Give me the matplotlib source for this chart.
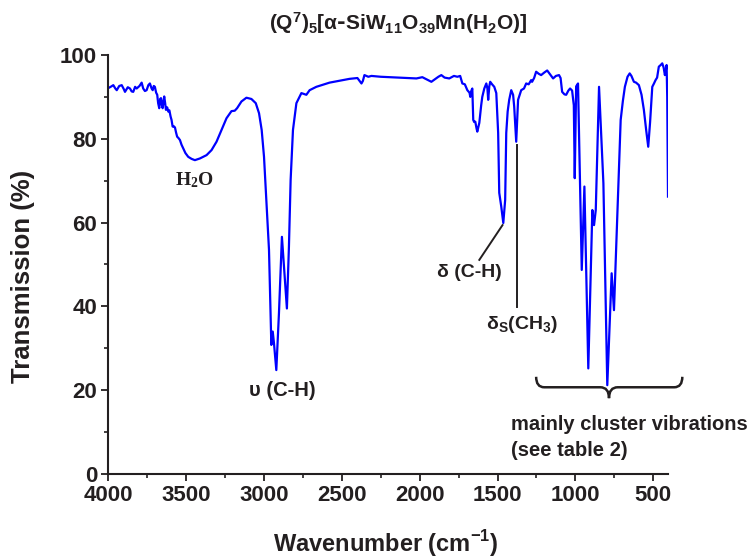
import matplotlib
matplotlib.use("Agg")
import matplotlib.pyplot as plt
from matplotlib.path import Path
from matplotlib.patches import PathPatch
from matplotlib.ticker import MultipleLocator

# IR spectrum (wavenumber in cm-1, transmission in %)
wavenumber = [
    4000, 3985, 3968, 3955, 3946, 3930, 3914, 3900, 3893, 3875, 3861, 3850,
    3840, 3828, 3818, 3800, 3786, 3776, 3765, 3754, 3743, 3733, 3722, 3715,
    3708, 3701, 3693, 3686, 3680, 3673, 3667, 3662, 3656, 3651, 3646, 3641,
    3635, 3630, 3622, 3615, 3608, 3600, 3594, 3587, 3580, 3572, 3565, 3558,
    3550, 3540, 3530, 3519, 3505, 3487, 3465, 3444, 3412, 3369, 3337, 3305,
    3273, 3241, 3209, 3188, 3173, 3145, 3113, 3081, 3053, 3032, 3015, 3000,
    2985, 2968, 2953, 2944, 2936, 2921, 2904, 2885, 2867, 2853, 2840, 2829,
    2814, 2792, 2760, 2728, 2707, 2664, 2579, 2493, 2451, 2400, 2374, 2365,
    2355, 2330, 2310, 2250, 2130, 2021, 1983, 1925, 1880, 1861, 1840, 1810,
    1780, 1758, 1740, 1726, 1710, 1694, 1680, 1675, 1668, 1662, 1656, 1650,
    1643, 1635, 1630, 1622, 1617, 1605, 1598, 1585, 1572, 1565, 1560, 1553,
    1547, 1535, 1521, 1508, 1496, 1489, 1476, 1463, 1451, 1444, 1435, 1425,
    1412, 1400, 1393, 1380, 1368, 1348, 1330, 1316, 1300, 1284, 1278, 1265,
    1252, 1235, 1220, 1200, 1181, 1165, 1143, 1125, 1105, 1095, 1085, 1070,
    1059, 1045, 1034, 1021, 1010, 1004, 995, 983, 959, 942, 917, 891,
    880, 869, 848, 820, 795, 767, 752, 731, 709, 695, 682, 665,
    651, 640, 624, 610, 592, 575, 560, 545, 532, 520, 506, 495,
    485, 475, 464, 452, 442, 433, 425, 418, 414, 410, 405,
]
transmission = [
    92.1, 92.4, 92.8, 92.0, 91.6, 92.6, 92.8, 91.8, 91.2, 92.3, 92.0, 91.3,
    91.2, 92.4, 92.0, 92.6, 93.4, 92.0, 91.4, 91.6, 92.8, 93.2, 92.0, 91.6,
    92.6, 92.4, 91.0, 90.5, 88.5, 87.3, 89.5, 89.7, 88.0, 87.3, 89.0, 90.1,
    88.5, 86.9, 87.5, 86.5, 86.8, 85.3, 84.5, 82.9, 83.0, 82.7, 81.5, 80.5,
    80.2, 79.7, 78.6, 77.7, 76.6, 75.7, 75.2, 74.9, 75.3, 76.1, 77.3, 79.3,
    82.1, 84.9, 86.6, 86.7, 87.3, 88.9, 89.8, 89.5, 88.5, 86.1, 82.1, 75.7,
    65.4, 53.5, 30.8, 34.0, 31.2, 24.8, 38.4, 56.6, 47.1, 39.5, 54.2, 70.2,
    82.1, 88.5, 90.9, 90.5, 91.6, 92.4, 93.4, 94.0, 94.3, 94.5, 93.2, 93.8,
    95.2, 94.8, 95.0, 94.8, 94.6, 94.4, 94.7, 93.6, 94.8, 95.2, 94.6, 94.4,
    95.0, 94.8, 95.0, 93.2, 93.0, 91.6, 91.0, 90.0, 91.5, 92.0, 84.5, 84.0,
    84.1, 82.5, 81.7, 83.0, 83.8, 88.0, 90.0, 92.0, 93.2, 92.0, 89.3, 92.5,
    93.6, 93.0, 92.4, 90.9, 81.4, 67.1, 63.8, 59.9, 65.4, 81.4, 86.5, 89.3,
    91.6, 90.5, 87.7, 79.3, 89.3, 91.6, 92.0, 93.2, 93.0, 94.0, 93.6, 94.5,
    96.0, 95.5, 95.2, 95.8, 96.3, 95.5, 94.4, 95.0, 95.2, 94.5, 91.2, 90.6,
    90.5, 91.5, 92.0, 91.5, 88.0, 70.6, 92.5, 93.2, 48.7, 68.6, 25.2, 63.0,
    59.4, 63.0, 92.4, 69.4, 21.2, 47.9, 39.1, 61.4, 84.5, 89.0, 92.4, 94.8,
    95.6, 95.0, 93.6, 93.4, 92.8, 90.5, 86.9, 82.0, 78.1, 84.0, 92.4, 93.2,
    94.0, 94.6, 97.2, 97.6, 98.0, 97.0, 95.2, 96.5, 97.6, 90.0, 66.2,
]

x_ticks = [4000, 3500, 3000, 2500, 2000, 1500, 1000, 500]
y_ticks = [0, 20, 40, 60, 80, 100]

plt.rcParams["font.family"] = ["Liberation Sans", "DejaVu Sans"]
plt.rcParams["font.weight"] = "bold"

fig = plt.figure(figsize=(7.56, 5.57), dpi=100)
ax = fig.add_axes([0.1433, 0.149, 0.7403, 0.7523])

ax.plot(wavenumber, transmission, color="#0000ff", lw=1.6)

ax.set_xlim(4000, 405)
ax.set_ylim(0, 100)
ax.set_xticks(x_ticks)
ax.set_yticks(y_ticks)
ax.xaxis.set_minor_locator(MultipleLocator(250))
ax.yaxis.set_minor_locator(MultipleLocator(10))
ax.tick_params(which="major", direction="out", length=5, width=1.3,
               labelsize=16, colors="#231f20", pad=3)
ax.tick_params(which="minor", direction="out", length=3, width=1.2,
               colors="#231f20")
for lab in ax.get_xticklabels() + ax.get_yticklabels():
    lab.set_fontweight("bold")
for side in ("top", "right"):
    ax.spines[side].set_visible(False)
for side in ("left", "bottom"):
    ax.spines[side].set_linewidth(1.5)
    ax.spines[side].set_color("#231f20")

ax.set_xlabel(r"Wavenumber (cm$^{\mathregular{-1}}$)", fontsize=17,
              fontweight="bold", color="#231f20")
ax.set_ylabel("Transmission (%)", fontsize=18.5, fontweight="bold",
              color="#231f20")
ax.xaxis.set_label_coords(0.495, -0.128)
ax.yaxis.set_label_coords(-0.131, 0.472)

fig.text(0.527, 0.958,
         r"$\mathregular{(Q^7)_5[α\text{-}SiW_{11}O_{39}Mn(H_2O)]}$",
         ha="center", va="center", fontsize=15, fontweight="bold",
         family=["Liberation Sans Narrow", "Liberation Sans"], color="#231f20")

# peak labels
ink = "#231f20"
ax.text(3444, 70.2, r"$\mathregular{H_2O}$", ha="center", va="center",
        fontsize=14, fontweight="bold", family=["Liberation Serif"], color=ink)
ax.text(2881, 20, "υ (C-H)", ha="center", va="center", fontsize=14.5,
        fontweight="bold", color=ink)
ax.plot([1468, 1617], [59.4, 51.1], color=ink, lw=1.4)
ax.text(1681, 48, "δ (C-H)", ha="center", va="center", fontsize=14,
        fontweight="bold", color=ink)
ax.plot([1376, 1376], [78.5, 39.9], color=ink, lw=1.4)
ax.text(1342, 35.6, r"$\mathregular{δ_S(CH_3)}$", ha="center", va="center",
        fontsize=14, fontweight="bold", color=ink)

# curly brace over the cluster region
brace = Path(
    [(1252, 23.2), (1252, 20.7), (1200, 20.7), (840, 20.7), (784, 20.7),
     (784, 18.1), (784, 20.7), (728, 20.7), (365, 20.7), (313, 20.7),
     (313, 23.2)],
    [Path.MOVETO, Path.CURVE3, Path.CURVE3, Path.LINETO, Path.CURVE3,
     Path.CURVE3, Path.CURVE3, Path.CURVE3, Path.LINETO, Path.CURVE3,
     Path.CURVE3],
)
ax.add_patch(PathPatch(brace, fill=False, lw=1.8, color=ink, clip_on=False))
ax.text(1412, 11.9, "mainly cluster vibrations", ha="left", va="center",
        fontsize=14.5, fontweight="bold", color=ink, clip_on=False)
ax.text(1412, 5.5, "(see table 2)", ha="left", va="center",
        fontsize=14.5, fontweight="bold", color=ink, clip_on=False)

fig.savefig("out.png", dpi=100)
